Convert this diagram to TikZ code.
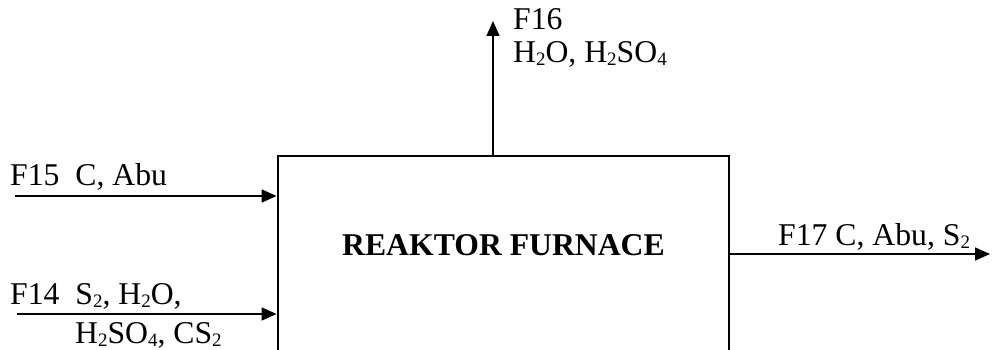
\documentclass[tikz,border=0pt]{standalone}
\usepackage{fontspec}
\setmainfont{Liberation Serif}
\usetikzlibrary{arrows.meta}
\newcommand{\subs}[1]{\raisebox{-3pt}{\fontsize{19}{19}\selectfont #1}}
\tikzset{
  flow/.style={line width=1.5pt,-{Triangle[length=15pt,width=13pt]}},
  lbl/.style={anchor=base west,inner sep=0pt,font=\fontsize{31.7}{38}\selectfont},
  boxstyle/.style={draw,line width=2.8pt,minimum width=451pt,minimum height=230pt,inner sep=0pt}
}
\begin{document}
\begin{tikzpicture}[x=1pt,y=-1pt]
\useasboundingbox (0,0) rectangle (992,350);
\clip (0,0) rectangle (992,350);
\node[boxstyle] (reactor) at (503.5,271) {};
\node[lbl,font=\fontsize{31.7}{38}\selectfont\bfseries] (title) at (342,255) {REAKTOR FURNACE};
% F16 up
\coordinate (f16tip) at (493,21);
\draw[flow] (reactor.north -| f16tip) -- (f16tip);
\node[lbl] (f16a) at (513,30) {F16};
\node[lbl] (f16b) at (513,63) {H\subs{2}O, H\subs{2}SO\subs{4}};
% F15 in
\coordinate (f15s) at (15,196);
\draw[flow] (f15s) -- (f15s -| reactor.west);
\node[lbl] (f15) at (10,185) {F15\hspace{0.25em} C, Abu};
% F14 in
\coordinate (f14s) at (17,314);
\draw[flow] (f14s) -- (f14s -| reactor.west);
\node[lbl] (f14a) at (10,304) {F14\hspace{0.25em} S\subs{2}, H\subs{2}O,};
\node[lbl] (f14b) at (75,343) {H\subs{2}SO\subs{4}, CS\subs{2}};
% F17 out
\coordinate (f17e) at (990,254);
\draw[flow] (f17e -| reactor.east) -- (f17e);
\node[lbl] (f17) at (778,245) {F17 C, Abu, S\subs{2}};
\end{tikzpicture}
\end{document}
